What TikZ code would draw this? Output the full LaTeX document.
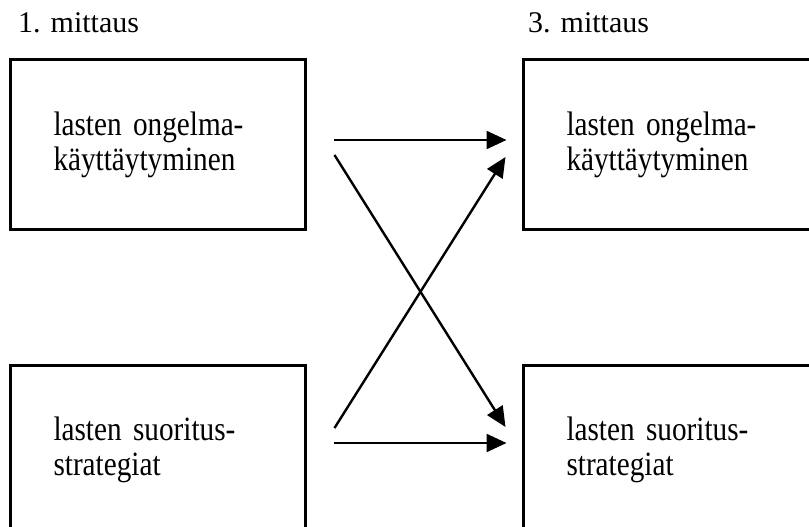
\documentclass[tikz,border=0pt]{standalone}
\usepackage{fontspec}
\setmainfont{Liberation Serif}
\newfontfamily\narrowserif[FakeStretch=0.86]{Liberation Serif}
\usepackage{tikz}
\usetikzlibrary{arrows.meta, positioning}
\tikzstyle{box} = [draw, line width=3pt, minimum width=295pt, minimum height=169pt, text width=208pt, align=left, font=\narrowserif\fontsize{34}{35}\selectfont]
\tikzstyle{title} = [anchor=base west, inner sep=0pt, font=\fontsize{30}{36}\selectfont]
\tikzstyle{arrow} = [line width=2.4pt, -{Triangle[length=20pt,width=18pt]}]

\begin{document}
\begin{tikzpicture}[x=1pt, y=-1pt]
\useasboundingbox (0,0) rectangle (809,527);
\clip (0,0) rectangle (809,527);

\node (ltop) [box] at (157.5,144.5) {lasten ongelma-\\käyttäytyminen};
\node (rtop) [box] at (670.5,144.5) {lasten ongelma-\\käyttäytyminen};
\node (lbot) [box] at (157.5,449.5) {lasten suoritus-\\strategiat};
\node (rbot) [box] at (670.5,449.5) {lasten suoritus-\\strategiat};

\node (first) [title] at (18,33) {1. mittaus};
\node (third) [title] at (528,33) {3. mittaus};

\draw [arrow] ([shift={(27pt,4.5pt)}]ltop.east) -- ([shift={(-15pt,4.5pt)}]rtop.west);
\draw [arrow] ([shift={(28pt,-10.5pt)}]ltop.east) -- ([shift={(-16pt,22.5pt)}]rbot.west);
\draw [arrow] ([shift={(28pt,21.5pt)}]lbot.east) -- ([shift={(-16pt,-12.5pt)}]rtop.west);
\draw [arrow] ([shift={(27pt,6.5pt)}]lbot.east) -- ([shift={(-15pt,6.5pt)}]rbot.west);

\end{tikzpicture}
\end{document}
